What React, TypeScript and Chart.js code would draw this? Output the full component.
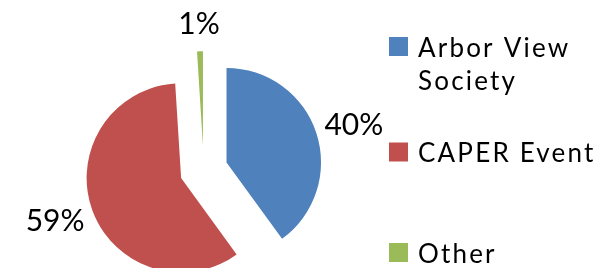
import React, { useEffect, useRef } from 'react';
import { Chart, PieController, ArcElement } from 'chart.js';

Chart.register(PieController, ArcElement);

// ---- data ----
const CATEGORIES: (string | string[])[] = [['Arbor View', 'Society'], 'CAPER Event', 'Other'];
const VALUES = [40, 59, 1];
const COLORS = ['#4F81BD', '#C0504D', '#9BBB59'];

// ---- styling / layout ----
const EXPLODE = 24;
const RADIUS = 94.5;
const LABEL_GAP = 10;
const LABEL_HALF_H = 18.5;
const LABEL_FONT = '30px Lato';
const LEGEND_FONT = '26px Lato';
const LEGEND_SPACING = '2.2px';
const LEGEND_BOX_X = 389;
const LEGEND_BOX = 19;
const LEGEND_TEXT_X = 418;
const LEGEND_ITEM_CENTER_Y = [46.5, 152, 252.5];
const LEGEND_LINE_H = 33;

const explodePlugin = {
  id: 'explodePie',
  beforeDatasetDraw(chart: any, args: any) {
    const ctx = chart.ctx;
    args.meta.data.forEach((arc: any) => {
      const mid = (arc.startAngle + arc.endAngle) / 2;
      ctx.save();
      ctx.translate(Math.cos(mid) * EXPLODE, Math.sin(mid) * EXPLODE);
      arc.draw(ctx);
      ctx.restore();
    });
    return false;
  },
  afterDraw(chart: any) {
    const ctx = chart.ctx;
    const meta = chart.getDatasetMeta(0);
    const data: number[] = chart.data.datasets[0].data;
    const total = data.reduce((a, b) => a + b, 0);
    ctx.save();
    ctx.fillStyle = '#000';
    ctx.font = LABEL_FONT;
    ctx.textAlign = 'center';
    ctx.textBaseline = 'alphabetic';
    meta.data.forEach((arc: any, i: number) => {
      const mid = (arc.startAngle + arc.endAngle) / 2;
      const ux = Math.cos(mid);
      const uy = Math.sin(mid);
      const text = Math.round((data[i] / total) * 100) + '%';
      const m = ctx.measureText(text);
      const d = arc.outerRadius + EXPLODE + LABEL_GAP;
      const cx = arc.x + ux * d + (ux * m.width) / 2;
      const cy = arc.y + uy * d + uy * LABEL_HALF_H;
      ctx.fillText(text, cx, cy + m.actualBoundingBoxAscent / 2);
    });

    // legend
    const labels = chart.data.labels;
    const colors = chart.data.datasets[0].backgroundColor;
    ctx.font = LEGEND_FONT;
    ctx.textAlign = 'left';
    (ctx as any).letterSpacing = LEGEND_SPACING;
    labels.forEach((lab: any, i: number) => {
      const cy = LEGEND_ITEM_CENTER_Y[i];
      ctx.fillStyle = colors[i];
      ctx.fillRect(LEGEND_BOX_X, cy - LEGEND_BOX / 2, LEGEND_BOX, LEGEND_BOX);
      ctx.fillStyle = '#000';
      const lines = Array.isArray(lab) ? lab : [lab];
      const asc = ctx.measureText('E').actualBoundingBoxAscent;
      lines.forEach((ln: string, j: number) => {
        ctx.fillText(ln, LEGEND_TEXT_X, cy + asc / 2 + j * LEGEND_LINE_H);
      });
    });
    ctx.restore();
  },
};

export default function App() {
  const ref = useRef<HTMLCanvasElement>(null);
  useEffect(() => {
    if (!ref.current) return;
    const chart = new Chart(ref.current, {
      type: 'pie',
      data: {
        labels: CATEGORIES,
        datasets: [
          {
            data: VALUES,
            backgroundColor: COLORS,
            borderWidth: 0,
          },
        ],
      },
      options: {
        responsive: false,
        animation: false,
        radius: RADIUS,
        layout: { padding: { left: 0, right: 205.6, top: 71.6, bottom: 0 } },
        plugins: { legend: { display: false }, tooltip: { enabled: false } },
        events: [],
      } as any,
      plugins: [explodePlugin],
    });
    return () => chart.destroy();
  }, []);
  return (
    <div style={{ position: 'fixed', left: 0, top: 0, width: 613, height: 268, background: '#fff' }}>
      <canvas ref={ref} width={613} height={268} style={{ display: 'block' }} />
    </div>
  );
}
